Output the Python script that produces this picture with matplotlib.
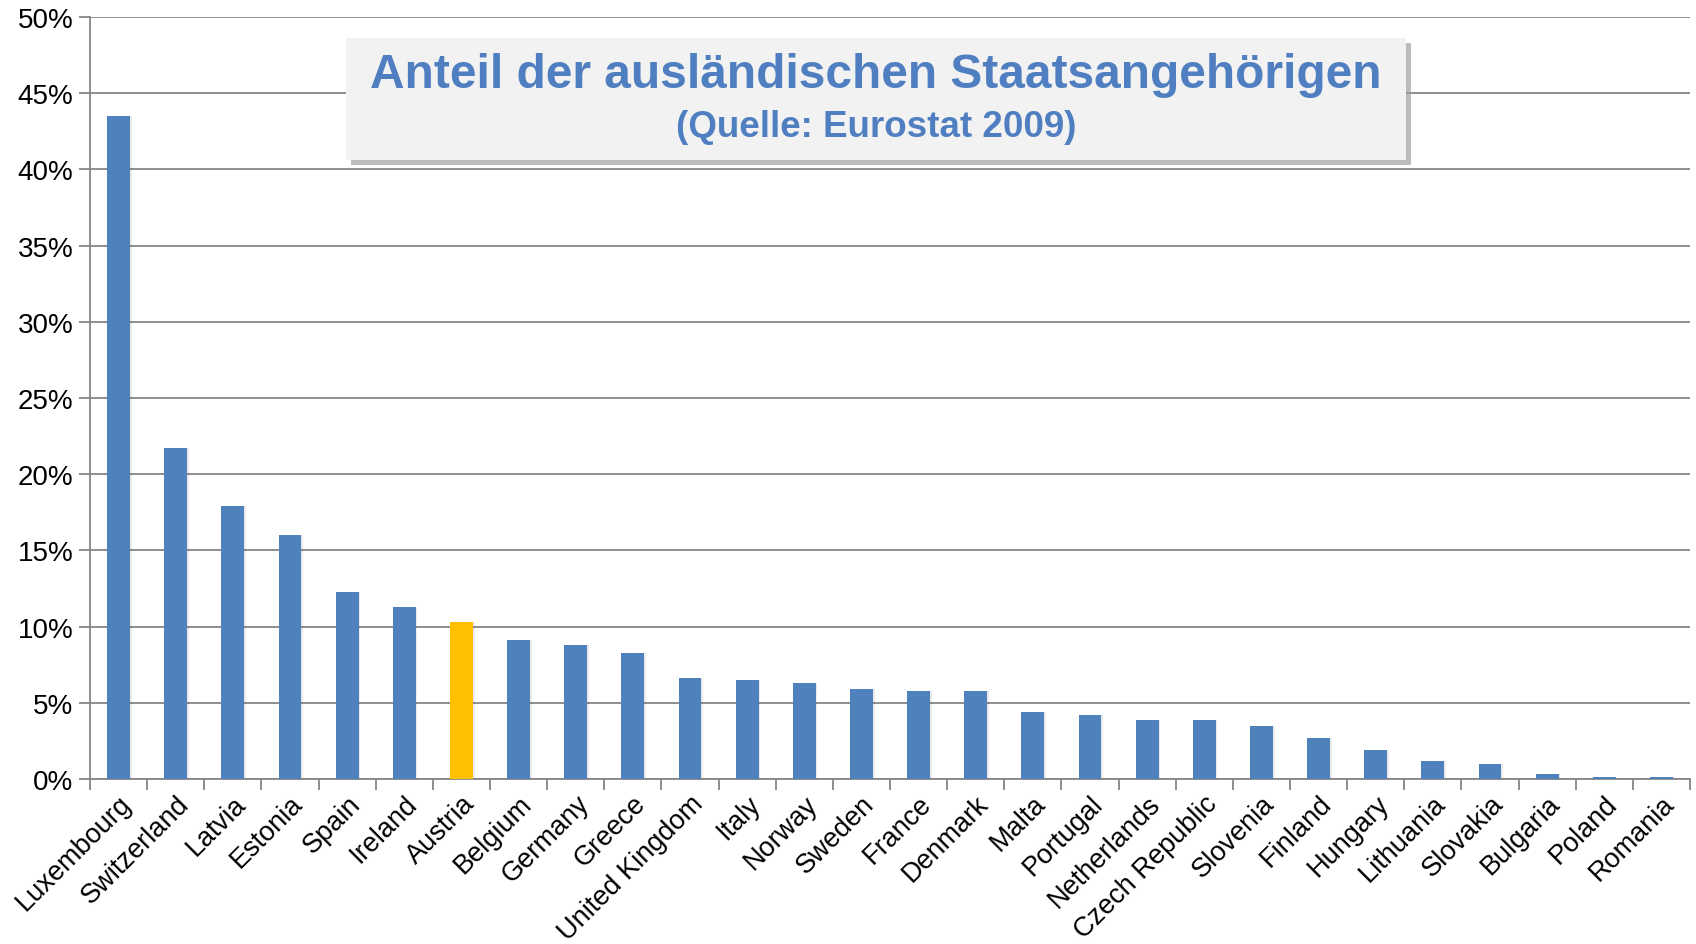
import numpy as np
import matplotlib.pyplot as plt
from matplotlib.patches import Rectangle
from matplotlib.ticker import FuncFormatter, FixedLocator

plt.rcParams['font.family'] = ['Liberation Sans', 'DejaVu Sans']

countries = ['Luxembourg', 'Switzerland', 'Latvia', 'Estonia', 'Spain', 'Ireland', 'Austria',
             'Belgium', 'Germany', 'Greece', 'United Kingdom', 'Italy', 'Norway', 'Sweden',
             'France', 'Denmark', 'Malta', 'Portugal', 'Netherlands', 'Czech Republic',
             'Slovenia', 'Finland', 'Hungary', 'Lithuania', 'Slovakia', 'Bulgaria', 'Poland',
             'Romania']
share = [43.5, 21.7, 17.9, 16.0, 12.3, 11.3, 10.3, 9.1, 8.8, 8.3, 6.6, 6.5, 6.3, 5.9,
         5.8, 5.8, 4.4, 4.2, 3.9, 3.9, 3.5, 2.7, 1.9, 1.2, 1.0, 0.3, 0.1, 0.1]
highlight = 'Austria'
yticks = [0, 5, 10, 15, 20, 25, 30, 35, 40, 45, 50]

blue = '#4F81BD'
orange = '#FFC000'
grid_col = '#868686'

fig = plt.figure(figsize=(16.96, 9.45), dpi=100)
ax = fig.add_axes([0.0531, 0.1746, 0.9434, 0.8064])

x = np.arange(len(countries))
colors = [orange if c == highlight else blue for c in countries]
# soft shadow behind bars
ax.bar(x + 0.03, share, width=0.4, color='#000000', alpha=0.08, zorder=2)
ax.bar(x, share, width=0.4, color=colors, zorder=3)

ax.set_xlim(-0.5, len(countries) - 0.5)
ax.set_ylim(0, 50)
ax.yaxis.set_major_locator(FixedLocator(yticks))
ax.yaxis.set_major_formatter(FuncFormatter(lambda v, p: '{:d}%'.format(int(v))))
ax.yaxis.grid(True, color=grid_col, linewidth=1.3, zorder=0)
ax.set_axisbelow(True)

# tick marks between categories, labels at centres
ax.set_xticks(np.arange(len(countries) + 1) - 0.5)
ax.set_xticklabels([])
ax.set_xticks(x, minor=True)
ax.set_xticklabels(countries, minor=True, rotation=45, ha='right', va='top',
                   rotation_mode='anchor', fontsize=19.5)
ax.tick_params(axis='x', which='minor', length=0, pad=8)
ax.tick_params(axis='x', which='major', length=8, width=1.3, color=grid_col)
ax.tick_params(axis='y', length=8, width=1.3, color=grid_col, labelsize=20, pad=4)

for s in ['top', 'right']:
    ax.spines[s].set_visible(False)
for s in ['left', 'bottom']:
    ax.spines[s].set_color(grid_col)
    ax.spines[s].set_linewidth(1.3)

# title box
bx, by, bw, bh = 0.204, 0.830, 0.625, 0.129
fig.patches.append(Rectangle((bx + 0.003, by - 0.006), bw, bh, transform=fig.transFigure,
                             facecolor='#A0A0A0', edgecolor='none', zorder=4, alpha=0.7))
fig.patches.append(Rectangle((bx, by), bw, bh, transform=fig.transFigure,
                             facecolor='#F2F2F2', edgecolor='none', zorder=5))
fig.text(bx + bw / 2, 0.920, 'Anteil der ausländischen Staatsangehörigen', ha='center',
         va='center', fontsize=34.5, fontweight='bold', color='#4F7FC0', zorder=6)
fig.text(bx + bw / 2, 0.865, '(Quelle: Eurostat 2009)', ha='center', va='center',
         fontsize=26.5, fontweight='bold', color='#4F7FC0', zorder=6)

fig.savefig('out.png', dpi=100)
